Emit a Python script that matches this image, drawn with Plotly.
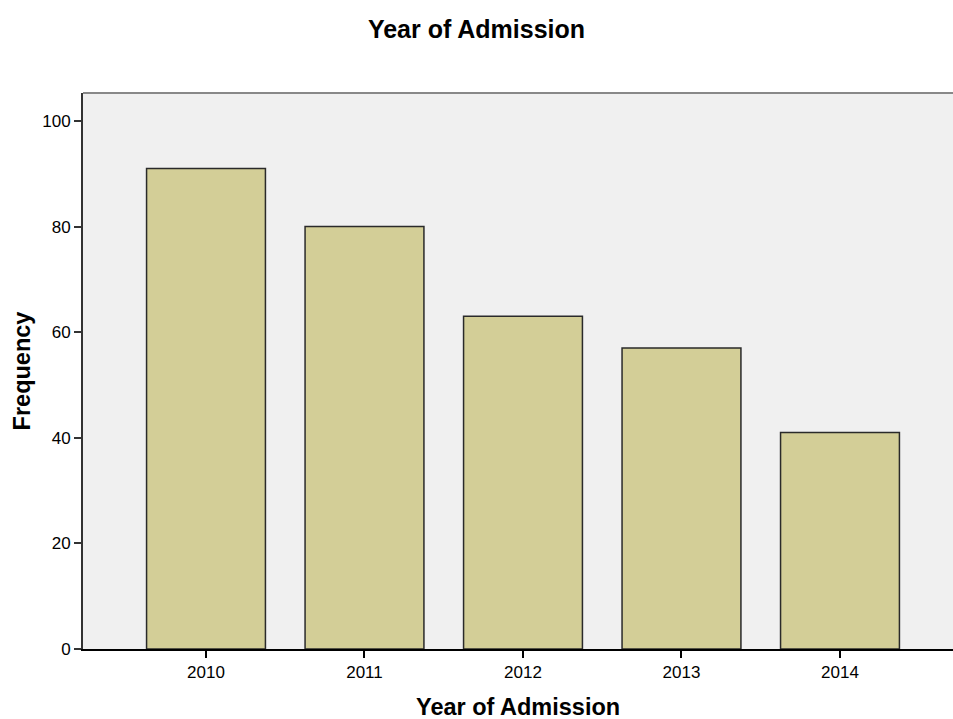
import plotly.graph_objects as go

years = ["2010", "2011", "2012", "2013", "2014"]
frequency = [91, 80, 63, 57, 41]
y_ticks = [0, 20, 40, 60, 80, 100]

fig = go.Figure()
fig.add_trace(go.Bar(
    x=years, y=frequency,
    marker=dict(color="#d3ce97", line=dict(color="#2a2a2a", width=1.5)),
    width=0.75,
))

fig.update_layout(
    width=953, height=719,
    margin=dict(l=83, r=0, t=93, b=70),
    paper_bgcolor="white",
    plot_bgcolor="#f0f0f0",
    showlegend=False,
    title=dict(text="<b>Year of Admission</b>", x=0.5, xanchor="center",
               y=1 - 29/719, yanchor="middle",
               font=dict(family="Liberation Sans, Arial", size=25, color="black")),
    font=dict(family="Liberation Sans, Arial", color="black"),
)
fig.update_xaxes(
    type="category", range=[-0.776, 4.713],
    showline=True, linecolor="black", linewidth=1.5,
    ticks="outside", ticklen=7, tickwidth=1.5, tickcolor="black",
    showgrid=False, tickfont=dict(size=17),
)
fig.update_yaxes(
    range=[0, 105.3], tickvals=y_ticks,
    showline=True, linecolor="#333333", linewidth=2,
    ticks="outside", ticklen=7, tickwidth=1.5, tickcolor="#333333",
    showgrid=False, zeroline=False, tickfont=dict(size=17),
    title=dict(text="<b>Frequency</b>", font=dict(size=23.5), standoff=5),
)
fig.add_annotation(text="<b>Year of Admission</b>", xref="paper", yref="paper",
                   x=0.5, y=-(707 - 649) / 556, xanchor="center", yanchor="middle",
                   showarrow=False, font=dict(size=23.5, color="black"))
fig.add_shape(type="line", xref="paper", yref="paper", x0=0, x1=1, y0=1, y1=1,
              line=dict(color="#888888", width=2))

fig.write_html("out.html", config={"displayModeBar": False},
               post_script="document.body.style.margin='0';document.body.style.overflow='hidden';")
